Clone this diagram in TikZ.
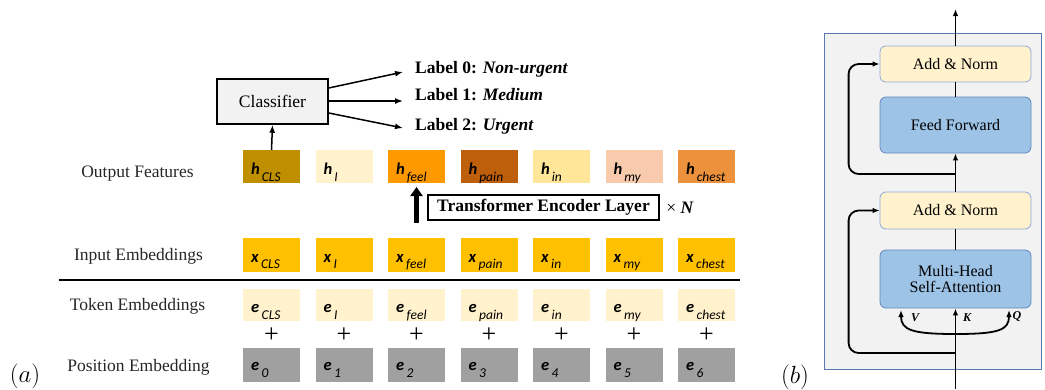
\documentclass[tikz,border=0pt]{standalone}
\usepackage{fontspec}
\setmainfont{Liberation Serif}
\newfontfamily\carl{Carlito}
\usetikzlibrary{arrows.meta,calc}
\definecolor{hA}{RGB}{191,143,0}
\definecolor{hB}{RGB}{255,242,204}
\definecolor{hC}{RGB}{255,153,0}
\definecolor{hD}{RGB}{190,95,12}
\definecolor{hE}{RGB}{255,230,153}
\definecolor{hF}{RGB}{248,203,173}
\definecolor{hG}{RGB}{236,145,60}
\definecolor{xcol}{RGB}{255,192,0}
\definecolor{ecol}{RGB}{255,242,204}
\definecolor{pcol}{RGB}{160,160,160}
\definecolor{panelfill}{RGB}{242,242,242}
\definecolor{panelline}{RGB}{90,120,175}
\definecolor{normfill}{RGB}{255,242,204}
\definecolor{normline}{RGB}{142,169,219}
\definecolor{bluefill}{RGB}{157,195,230}
\definecolor{blueline}{RGB}{100,135,190}
\begin{document}
\begin{tikzpicture}[x=1pt,y=-1pt,
  tok/.style={anchor=north west,minimum width=57pt,inner sep=0pt,outer sep=0pt,draw=none},
  big/.style={anchor=base west,inner sep=0pt,font=\carl\bfseries\itshape\fontsize{16.5}{16.5}\selectfont},
  small/.style={anchor=base west,inner sep=0pt,font=\carl\itshape\fontsize{13.5}{13.5}\selectfont},
  rowlab/.style={inner sep=0pt,text=black!85,font=\fontsize{17.5}{20}\selectfont},
  plus/.style={inner sep=0pt,font=\fontsize{26}{26}\selectfont},
  lab/.style={anchor=base west,inner sep=0pt,font=\bfseries\fontsize{17.5}{20}\selectfont},
  arr/.style={line width=1.5pt,-{Latex[length=8pt,width=6pt]}},
  rarr/.style={line width=1.8pt,-{Latex[length=7pt,width=5.5pt]}},
  rline/.style={line width=1.8pt},
  normbox/.style={draw=normline,line width=0.8pt,fill=normfill,rounded corners=6pt,minimum width=151pt,inner sep=0pt,font=\fontsize{16}{18}\selectfont},
  bluebox/.style={draw=blueline,line width=0.8pt,fill=bluefill,rounded corners=6pt,minimum width=151pt,inner sep=0pt,font=\fontsize{16}{18}\selectfont,align=center},
  qkv/.style={inner sep=0pt,font=\bfseries\itshape\fontsize{12}{12}\selectfont}]
\useasboundingbox (0,0) rectangle (1045,389);

% ---------------- panel (a) ----------------
\foreach \i/\s/\c in {0/CLS/hA,1/I/hB,2/feel/hC,3/pain/hD,4/in/hE,5/my/hF,6/chest/hG}{
  \pgfmathsetmacro\xl{243+72.5*\i}
  \node[tok,fill=\c,minimum height=33pt] (h\i) at (\xl,150) {};
  \node[big] (hl\i) at ($(h\i.south west)+(8,-9)$) {h};
  \node[small] (hs\i) at ($(hl\i.base east)+(1.5,7)$) {\s};
  \node[tok,fill=xcol,minimum height=34pt] (x\i) at (\xl,238) {};
  \node[big] (xl\i) at ($(x\i.south west)+(8,-10)$) {x};
  \node[small] (xs\i) at ($(xl\i.base east)+(2,6.5)$) {\s};
  \node[tok,fill=ecol,minimum height=32pt] (e\i) at (\xl,289) {};
  \node[big] (el\i) at ($(e\i.south west)+(8,-9)$) {e};
  \node[small] (es\i) at ($(el\i.base east)+(2,7)$) {\s};
  \node[plus] (p\i) at ($(e\i.south)+(0,14)$) {+};
  \node[tok,fill=pcol,minimum height=34pt] (q\i) at (\xl,348) {};
  \node[big] (ql\i) at ($(q\i.south west)+(8,-12)$) {e};
  \node[small] (qs\i) at ($(ql\i.base east)+(2,7)$) {\i};
}

\node[rowlab] (of) at (137.5,174) {Output Features};
\node[rowlab] (ie) at (138.5,256) {Input Embeddings};
\node[rowlab] (te) at (137.5,306) {Token Embeddings};
\node[rowlab] (pe) at (138.5,367) {Position Embedding};
\node[inner sep=0pt,font=\fontsize{26}{26}\selectfont] (la) at (25,376) {$(a)$};

\coordinate (ls) at (59,280);
\coordinate (le) at (740,280);
\draw[line width=1.8pt] (ls) -- (le);

\node[draw,line width=1.5pt,fill=panelfill,minimum width=111pt,minimum height=45pt,inner sep=0pt,font=\fontsize{17.5}{20}\selectfont] (cls) at (272.5,101.5) {Classifier};
\draw[arr] (h0.north) -- (cls.south);

\node[lab] (l0) at (415,73) {Label 0: \textit{Non-urgent}};
\node[lab] (l1) at (415,100) {Label 1: \textit{Medium}};
\node[lab] (l2) at (415,130) {Label 2: \textit{Urgent}};
\draw[arr] ($(cls.east)+(0,-13.5)$) -- ($(l0.base west)+(-12,-1)$);
\draw[arr] ($(cls.east)+(0,-0.5)$) -- ($(l1.base west)+(-12,1)$);
\draw[arr] ($(cls.east)+(0,11.5)$) -- ($(l2.base west)+(-12,-2)$);

\node[draw,line width=1.5pt,minimum width=231pt,minimum height=25pt,inner sep=0pt,font=\bfseries\fontsize{17.5}{20}\selectfont] (tel) at (543.5,207.5) {Transformer Encoder Layer};
\node[inner sep=0pt,font=\fontsize{17.5}{20}\selectfont] (xn) at (680,207.5) {× \textbf{\textit{N}}};
\draw[line width=4.5pt,-{Triangle[length=9pt,width=12pt]},shorten >=4pt] ($(h2.south |- tel.south)+(0,2)$) -- (h2.south);

% ---------------- panel (b) ----------------
\node[inner sep=0pt,font=\fontsize{26}{26}\selectfont] (lb) at (795,377) {$(b)$};
\draw[draw=panelline,line width=1pt,fill=panelfill] (824,33) rectangle (1041,369);
\node[normbox,minimum height=36pt] (an2) at (955.5,64) {Add \& Norm};
\node[bluebox,minimum height=56pt] (ff) at (955.5,125) {Feed Forward};
\node[normbox,minimum height=37pt] (an1) at (955.5,210.5) {Add \& Norm};
\node[bluebox,minimum height=58pt] (mh) at (955.5,279) {Multi-Head\\[-2pt]Self-Attention};

\coordinate (out) at (955.5,9);
\coordinate (in) at (955.5,389);
\coordinate (b1) at (955.5,174);
\coordinate (b2) at (955.5,353);
\coordinate (j) at (955.5,334);
\coordinate (vt) at (901,310);
\coordinate (qt) at (1009,310);

\draw[rarr] (an2.north) -- (out);
\draw[rline] (ff.north) -- (an2.south);
\draw[rarr] (an1.north) -- (ff.south);
\draw[rline] (mh.north) -- (an1.south);
\draw[rarr] (in) -- (mh.south);
\draw[rarr,rounded corners=10pt] (b1) -| ($(an2.west)+(-31,0)$) -- (an2.west);
\draw[rarr,rounded corners=10pt] (b2) -| ($(an1.west)+(-31,0)$) -- (an1.west);
\draw[rarr] (j) .. controls (912,334) and (901,330) .. (vt);
\draw[rarr] (j) .. controls (999,334) and (1009,330) .. (qt);
\node[qkv] (vl) at (915,318) {V};
\node[qkv] (kl) at (967,318) {K};
\node[qkv] (ql) at (1017,316) {Q};
\end{tikzpicture}
\end{document}
